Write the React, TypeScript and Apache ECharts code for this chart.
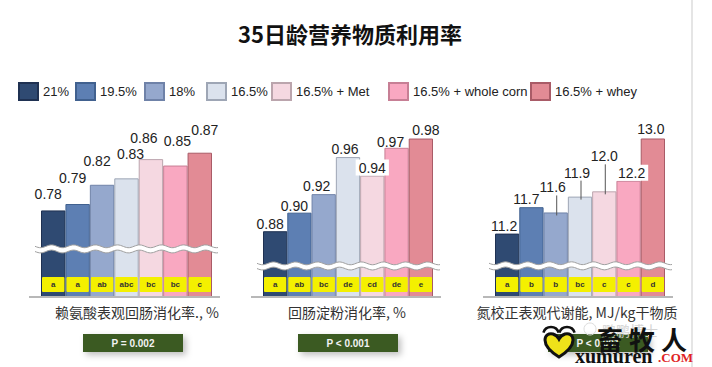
import React, { useEffect, useRef } from "react";
import * as echarts from "echarts";

// ---------- data ----------
const groups = ["21%", "19.5%", "18%", "16.5%", "16.5% + Met", "16.5% + whole corn", "16.5% + whey"];
const lysineValues = [0.78, 0.79, 0.82, 0.83, 0.86, 0.85, 0.87];
const starchValues = [0.88, 0.9, 0.92, 0.96, 0.94, 0.97, 0.98];
const amenValues = [11.2, 11.7, 11.6, 11.9, 12.0, 12.2, 13.0];
const lysineLetters = ["a", "a", "ab", "abc", "bc", "bc", "c"];
const starchLetters = ["a", "ab", "bc", "de", "cd", "de", "e"];
const amenLetters = ["a", "b", "b", "bc", "c", "c", "d"];
const panelTitles = ["赖氨酸表观回肠消化率., %", "回肠淀粉消化率, %", "氮校正表观代谢能, MJ/kg干物质"];
const pTexts = ["P = 0.002", "P < 0.001", "P < 0.001"];
const chartTitle = "35日龄营养物质利用率";

// ---------- styles / layout ----------
const colors = ["#2f4a72", "#5d7fb3", "#95a8cd", "#dbe2ed", "#f5d8e1", "#f9a8c1", "#e28b95"];
const borders = ["#1f3152", "#41618f", "#6f82a8", "#9ea6b5", "#bba5ad", "#c77f95", "#a95b67"];
const legendLefts = [18, 75, 144, 206, 271, 388, 530];
const SANS = "'Liberation Sans', Arial, sans-serif";
const CJK = "'Noto Sans CJK SC', 'Noto Sans', sans-serif";

const panels = [
  {
    values: lysineValues, letters: lysineLetters, decimals: 2,
    left: 41, width: 171, min: 0.645, max: 0.921, breakAt: 0.72,
    lift: [9, 19, 17, 17, 14, 18, 16], dx: [-5, -5, -5, 4, -7, 2, 5],
    boxed: [] as number[], leaders: [] as number[],
    titleX: 137, pLeft: 83,
  },
  {
    values: starchValues, letters: starchLetters, decimals: 2,
    left: 263, width: 170, min: 0.809, max: 1.0, breakAt: 0.8425,
    lift: [0, 0, 1, 1, 0, -1, 2], dx: [-5, -5, -7, -3, 0, -6, 5],
    boxed: [4], leaders: [] as number[],
    titleX: 347, pLeft: 298,
  },
  {
    values: amenValues, letters: amenLetters, decimals: 1,
    left: 495, width: 170, min: 10.0, max: 13.35, breakAt: 10.59,
    lift: [1, 1, 18, 17, 28, 0, 2], dx: [-3, -5, -3, -3, 0, 3, -2],
    boxed: [5], leaders: [2, 3, 4],
    titleX: 577, pLeft: 548,
  },
];

const GRID_TOP = 120;
const GRID_BOTTOM_Y = 297;

echarts.graphic.registerShape(
  "xmrHeart",
  echarts.graphic.extendPath(
    "M15 24 C 7 19 1 13 1 7 C 1 2 5 0 9 1 C 12 2 14 4 15 6 C 16 4 18 2 21 1 C 25 0 29 2 29 7 C 29 13 23 19 15 24 Z",
    {}
  )
);

function buildOption() {
  const series: any[] = [];
  panels.forEach((p, pi) => {
    groups.forEach((g, i) => {
      const boxed = p.boxed.indexOf(i) >= 0;
      series.push({
        type: "bar",
        name: g,
        xAxisIndex: pi,
        yAxisIndex: pi,
        data: p.values.map((v, j) => (j === i ? v : "-")),
        barGap: "-100%",
        barCategoryGap: "0%",
        itemStyle: { color: colors[i], borderColor: borders[i], borderWidth: 1 },
        label: {
          show: true,
          position: "top",
          distance: p.lift[i],
          offset: [p.dx[i], 0],
          formatter: (prm: any) => Number(prm.value).toFixed(p.decimals),
          fontSize: 14,
          color: "#222",
          fontFamily: SANS,
          backgroundColor: boxed ? "#ffffff" : "transparent",
          padding: boxed ? [1, 3, 1, 3] : 0,
        },
        emphasis: { disabled: true },
        z: 2,
      });
    });

    // break band + baseline
    series.push({
      type: "custom",
      xAxisIndex: pi,
      yAxisIndex: pi,
      silent: true,
      z: 5,
      data: [[0, p.breakAt]],
      renderItem: (params: any, api: any) => {
        const cs = params.coordSys;
        const y = api.coord([0, api.value(1)])[1];
        const x0 = cs.x - 6;
        const x1 = cs.x + cs.width + 7;
        const top: number[][] = [];
        const bot: number[][] = [];
        for (let x = x0; x <= x1 + 0.1; x += 1.5) {
          const w = Math.sin(((x - x0) / 22) * 2 * Math.PI) * 1.4;
          top.push([x, y - 2.6 + w]);
          bot.push([x, y + 2.6 + w]);
        }
        return {
          type: "group",
          children: [
            { type: "polygon", shape: { points: top.concat(bot.slice().reverse()) }, style: { fill: "#ffffff" } },
            { type: "polyline", shape: { points: top }, style: { stroke: "#a0a0a0", lineWidth: 1, fill: null } },
            { type: "polyline", shape: { points: bot }, style: { stroke: "#a0a0a0", lineWidth: 1, fill: null } },
            {
              type: "line",
              shape: { x1: cs.x - 12, y1: cs.y + cs.height, x2: cs.x + cs.width + 8, y2: cs.y + cs.height },
              style: { stroke: "#b8b8b8", lineWidth: 2 },
            },
          ],
        };
      },
    });

    // significance letters
    series.push({
      type: "custom",
      xAxisIndex: pi,
      yAxisIndex: pi,
      silent: true,
      z: 6,
      data: p.letters.map((_, j) => [j, p.min]),
      renderItem: (params: any, api: any) => {
        const idx = params.dataIndex;
        const pt = api.coord([api.value(0), api.value(1)]);
        const bw = api.size([1, 0])[0];
        return {
          type: "group",
          children: [
            {
              type: "rect",
              shape: { x: pt[0] - bw / 2 + 1, y: pt[1] - 20, width: bw - 2, height: 15, r: 1 },
              style: { fill: "#f4f000" },
            },
            {
              type: "text",
              style: {
                text: p.letters[idx],
                x: pt[0],
                y: pt[1] - 12.5,
                align: "center",
                verticalAlign: "middle",
                fontSize: 8,
                fontWeight: "bold",
                fill: "#333",
                fontFamily: SANS,
              },
            },
          ],
        };
      },
    });

    if (p.leaders.length) {
      series.push({
        type: "custom",
        xAxisIndex: pi,
        yAxisIndex: pi,
        silent: true,
        z: 6,
        data: p.leaders.map((j) => [j, p.values[j]]),
        renderItem: (params: any, api: any) => {
          const j = p.leaders[params.dataIndex];
          const pt = api.coord([api.value(0), api.value(1)]);
          const cx = pt[0] + 1;
          return {
            type: "line",
            shape: { x1: cx, y1: pt[1] - p.lift[j] + 1, x2: cx, y2: pt[1] + 3 },
            style: { stroke: "#555", lineWidth: 1 },
          };
        },
      });
    }
  });

  const graphic: any[] = [
    { type: "line", shape: { x1: 692, y1: 0, x2: 692, y2: 367 }, style: { stroke: "#dcdcdc", lineWidth: 1.5 }, z: 1 },
    {
      type: "text",
      x: 350,
      y: 33,
      style: {
        text: chartTitle,
        align: "center",
        verticalAlign: "middle",
        fontSize: 22,
        fontWeight: "bold",
        fill: "#111",
        fontFamily: CJK,
      },
    },
  ];
  panels.forEach((p, pi) => {
    graphic.push({
      type: "text",
      x: p.titleX,
      y: 312,
      style: { text: panelTitles[pi], align: "center", verticalAlign: "middle", fontSize: 14, fill: "#333", fontFamily: CJK },
    });
    graphic.push({
      type: "rect",
      shape: { x: p.pLeft, y: 334, width: 100, height: 18 },
      style: { fill: "#3b5a23", shadowBlur: 6, shadowOffsetX: 3, shadowOffsetY: 3, shadowColor: "rgba(0,0,0,0.25)" },
      z: 10,
    });
    graphic.push({
      type: "text",
      x: p.pLeft + 50,
      y: 343,
      style: { text: pTexts[pi], align: "center", verticalAlign: "middle", fontSize: 10, fontWeight: "bold", fill: "#f2f2f2", fontFamily: SANS },
      z: 11,
    });
  });

  // watermark
  graphic.push(
    { type: "text", x: 602, y: 330, style: { text: "鹏鹏博士", align: "left", verticalAlign: "middle", fontSize: 14, fill: "#d4d4d4", fontFamily: CJK }, z: 20 },
    { type: "circle", shape: { cx: 590, cy: 329, r: 6 }, style: { fill: "none", stroke: "#dddddd", lineWidth: 1 }, z: 20 },
    { type: "text", x: 642, y: 338, style: { text: "畜 牧 人", align: "center", verticalAlign: "middle", fontSize: 26, fontWeight: "bold", fill: "#111", fontFamily: CJK }, z: 30 },
    { type: "text", x: 575, y: 356, style: { text: "xumuren", align: "left", verticalAlign: "middle", fontSize: 20, fontWeight: "bold", fill: "#111", fontFamily: "'Liberation Serif', 'DejaVu Serif', serif" }, z: 30 },
    { type: "text", x: 658, y: 357, style: { text: ".COM", align: "left", verticalAlign: "middle", fontSize: 13, fontWeight: "bold", fill: "#e02424", fontFamily: "'Liberation Serif', 'DejaVu Serif', serif" }, z: 30 },
    { type: "xmrHeart", x: 544, y: 333, scaleX: 1.0, scaleY: 1.0, style: { fill: "#efe21a", stroke: "#111", lineWidth: 3 }, z: 30 },
    { type: "arc", shape: { cx: 551, cy: 335, r: 8, startAngle: Math.PI * 1.1, endAngle: Math.PI * 1.9 }, style: { stroke: "#111", lineWidth: 2.5, fill: "none" }, z: 30 },
    { type: "arc", shape: { cx: 567, cy: 335, r: 8, startAngle: Math.PI * 1.1, endAngle: Math.PI * 1.9 }, style: { stroke: "#111", lineWidth: 2.5, fill: "none" }, z: 30 }
  );

  return {
    animation: false,
    backgroundColor: "#ffffff",
    legend: groups.map((g, i) => ({
      data: [g],
      left: legendLefts[i],
      top: 82,
      icon: "rect",
      itemWidth: 19,
      itemHeight: 17,
      padding: 0,
      textStyle: { fontSize: 13, color: "#222", fontFamily: SANS },
    })),
    grid: panels.map((p) => ({
      left: p.left,
      width: p.width,
      top: GRID_TOP,
      bottom: 367 - GRID_BOTTOM_Y,
      outerBoundsMode: "none",
      containLabel: false,
    })),
    xAxis: panels.map((_, pi) => ({
      type: "category",
      gridIndex: pi,
      data: groups,
      show: false,
    })),
    yAxis: panels.map((p, pi) => ({
      type: "value",
      gridIndex: pi,
      min: p.min,
      max: p.max,
      show: false,
    })),
    series,
    graphic,
  };
}

export default function App() {
  const ref = useRef<HTMLDivElement>(null);
  useEffect(() => {
    if (!ref.current) return;
    const chart = echarts.init(ref.current, undefined, { renderer: "svg" });
    chart.setOption(buildOption() as any);
    return () => chart.dispose();
  }, []);
  return (
    <div
      ref={ref}
      style={{ position: "absolute", left: 0, top: 0, width: 712, height: 367, background: "#fff" }}
    />
  );
}
